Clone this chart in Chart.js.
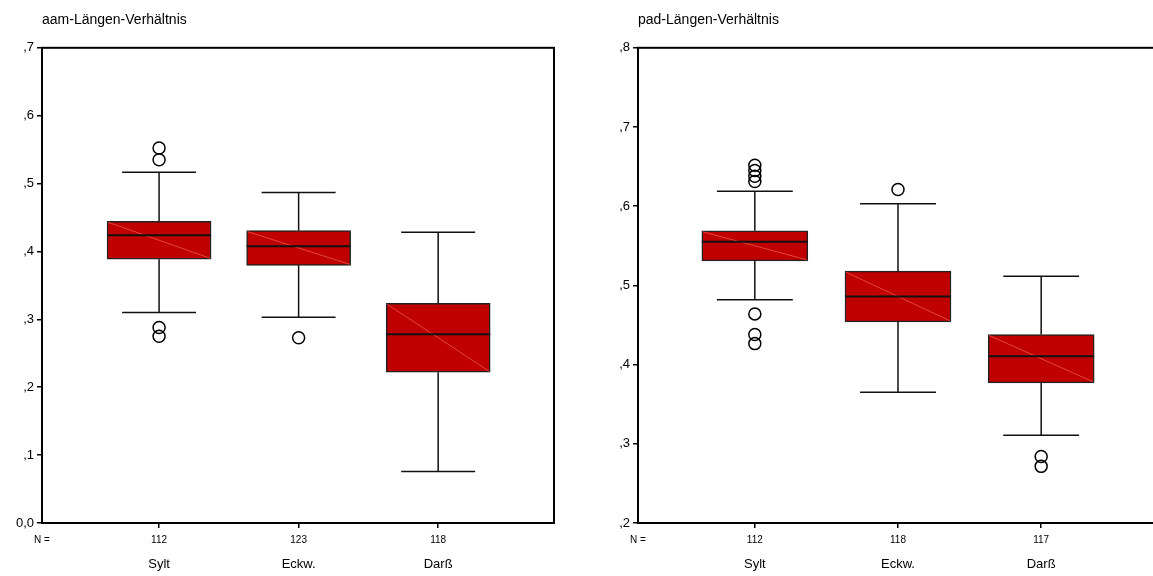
<!DOCTYPE html>
<html>
<head>
<meta charset="utf-8">
<script src="https://cdn.jsdelivr.net/npm/chart.js@4.4.1/dist/chart.umd.min.js"></script>
<style>
  html, body { margin: 0; padding: 0; background: #fff; overflow: hidden; width: 1153px; height: 576px; }
  #left { position: absolute; left: 0; top: 0; }
  #right { position: absolute; left: 580px; top: 0; }
</style>
</head>
<body>
<canvas id="left" width="576" height="576"></canvas>
<canvas id="right" width="600" height="576"></canvas>
<script>
// categories and sample sizes
const categories = ["Sylt", "Eckw.", "Darß"];
const aamN = ["112", "123", "118"];
const padN = ["112", "118", "117"];

// aam-Längen-Verhältnis
const aamWhiskerLow = [0.310, 0.303, 0.076];
const aamQ1 = [0.3885, 0.3796, 0.222];
const aamMedian = [0.4238, 0.4076, 0.278];
const aamQ3 = [0.4445, 0.4307, 0.3237];
const aamWhiskerHigh = [0.5167, 0.4867, 0.4283];
const aamOutliers = [[0.5525, 0.535, 0.288, 0.275], [0.273], []];

// pad-Längen-Verhältnis
const padWhiskerLow = [0.482, 0.365, 0.3107];
const padQ1 = [0.531, 0.454, 0.377];
const padMedian = [0.555, 0.486, 0.4105];
const padQ3 = [0.569, 0.518, 0.438];
const padWhiskerHigh = [0.619, 0.603, 0.5115];
const padOutliers = [[0.6517, 0.645, 0.6378, 0.6311, 0.464, 0.438, 0.4265], [0.621], [0.284, 0.2715]];

const FONT = "Arial, 'Liberation Sans', sans-serif";

function fmtY(v) {
  if (Math.abs(v) < 1e-9) return "0,0";
  return "," + Math.round(v * 10);
}

function makeBoxChart(canvasId, cfg) {
  const xs = categories.map(function (c, i) { return i + 1; });

  const boxData = xs.map(function (x, i) {
    return { x: x, y: [cfg.q1[i], cfg.q3[i]] };
  });

  const outlierData = [];
  cfg.outliers.forEach(function (list, i) {
    list.forEach(function (v) {
      outlierData.push({ x: xs[i], y: v });
    });
  });

  // whiskers, caps, median and the light diagonal in each box
  const whiskerPlugin = {
    id: "whiskers",
    afterDatasetsDraw: function (chart) {
      const c = chart.ctx;
      const xScale = chart.scales.x;
      const yScale = chart.scales.y;
      const bars = chart.getDatasetMeta(0).data;
      c.save();
      bars.forEach(function (bar, i) {
        const xc = xScale.getPixelForValue(xs[i]);
        const capHalf = xScale.getPixelForValue(xs[i] + 0.265) - xc;
        const yHi = yScale.getPixelForValue(cfg.hi[i]);
        const yLo = yScale.getPixelForValue(cfg.lo[i]);
        const yQ3 = yScale.getPixelForValue(cfg.q3[i]);
        const yQ1 = yScale.getPixelForValue(cfg.q1[i]);
        const yMed = yScale.getPixelForValue(cfg.median[i]);
        const left = bar.x - bar.width / 2;
        const right = bar.x + bar.width / 2;

        c.strokeStyle = "#e8584f";
        c.lineWidth = 0.8;
        c.beginPath();
        c.moveTo(left + 1, yQ3 + 1);
        c.lineTo(right - 1, yQ1 - 1);
        c.stroke();

        c.strokeStyle = "#111";
        c.lineWidth = 1.5;
        c.beginPath();
        c.moveTo(xc, yHi); c.lineTo(xc, yQ3);
        c.moveTo(xc, yQ1); c.lineTo(xc, yLo);
        c.moveTo(xc - capHalf, yHi); c.lineTo(xc + capHalf, yHi);
        c.moveTo(xc - capHalf, yLo); c.lineTo(xc + capHalf, yLo);
        c.stroke();

        c.lineWidth = 2;
        c.beginPath();
        c.moveTo(left, yMed); c.lineTo(right, yMed);
        c.stroke();
      });
      c.restore();
    },
    afterDraw: function (chart) {
      const a = chart.chartArea;
      const c = chart.ctx;
      c.save();
      c.strokeStyle = "#000";
      c.lineWidth = 2;
      c.strokeRect(a.left, a.top, a.right - a.left, a.bottom - a.top);
      c.restore();
    }
  };

  return new Chart(document.getElementById(canvasId), {
    type: "bar",
    data: {
      datasets: [
        {
          data: boxData,
          backgroundColor: "#c00000",
          borderColor: "#222",
          borderWidth: 1.5,
          borderSkipped: false,
          barThickness: cfg.boxWidth,
          order: 2
        },
        {
          type: "scatter",
          data: outlierData,
          pointRadius: 6,
          pointBorderWidth: 1.5,
          pointBackgroundColor: "rgba(0,0,0,0)",
          pointBorderColor: "#000",
          showLine: false,
          order: 1
        }
      ]
    },
    options: {
      responsive: false,
      animation: false,
      devicePixelRatio: 1,
      layout: { padding: { left: 0, right: cfg.padRight, top: 0, bottom: 0 } },
      plugins: {
        legend: { display: false },
        tooltip: { enabled: false },
        title: {
          display: true,
          text: cfg.title,
          align: "start",
          fullSize: false,
          color: "#000",
          font: { family: FONT, size: 14, weight: "normal" },
          padding: { top: 12, bottom: 19 }
        }
      },
      scales: {
        x: {
          type: "linear",
          position: "bottom",
          weight: 1,
          min: cfg.xMin,
          max: cfg.xMax,
          offset: false,
          border: { display: false },
          grid: {
            offset: false,
            drawOnChartArea: false,
            tickLength: 5,
            lineWidth: 1.5,
            color: function (ctx) { return ctx.index === 0 ? "rgba(0,0,0,0)" : "#000"; }
          },
          afterBuildTicks: function (axis) {
            axis.ticks = [{ value: cfg.xMin }].concat(xs.map(function (v) { return { value: v }; }));
          },
          afterFit: function (axis) { axis.height = 22; },
          ticks: {
            autoSkip: false,
            maxRotation: 0,
            padding: 6,
            color: "#000",
            font: { family: FONT, size: 10 },
            callback: function (value, index) {
              return index === 0 ? "N =" : cfg.n[index - 1];
            }
          }
        },
        xn: {
          type: "linear",
          position: "bottom",
          weight: 2,
          min: cfg.xMin,
          max: cfg.xMax,
          offset: false,
          border: { display: false },
          grid: { display: false, drawTicks: false, offset: false },
          afterBuildTicks: function (axis) {
            axis.ticks = xs.map(function (v) { return { value: v }; });
          },
          afterFit: function (axis) { axis.height = 31; },
          ticks: {
            autoSkip: false,
            maxRotation: 0,
            padding: 12,
            color: "#000",
            font: { family: FONT, size: 13 },
            callback: function (value, index) { return categories[index]; }
          }
        },
        y: {
          min: cfg.yMin,
          max: cfg.yMax,
          border: { display: false },
          grid: { drawOnChartArea: false, tickLength: 5, lineWidth: 1.5, color: "#000" },
          afterFit: function (axis) { axis.width = cfg.yWidth; },
          ticks: {
            stepSize: 0.1,
            padding: 3,
            color: "#000",
            font: { family: FONT, size: 13 },
            callback: function (value) { return fmtY(value); }
          }
        }
      }
    },
    plugins: [whiskerPlugin]
  });
}

makeBoxChart("left", {
  title: "aam-Längen-Verhältnis",
  n: aamN,
  lo: aamWhiskerLow, q1: aamQ1, median: aamMedian, q3: aamQ3, hi: aamWhiskerHigh,
  outliers: aamOutliers,
  yMin: 0, yMax: 0.7,
  xMin: 0.161, xMax: 3.83,
  yWidth: 42, padRight: 22, boxWidth: 104
});

makeBoxChart("right", {
  title: "pad-Längen-Verhältnis",
  n: padN,
  lo: padWhiskerLow, q1: padQ1, median: padMedian, q3: padQ3, hi: padWhiskerHigh,
  outliers: padOutliers,
  yMin: 0.2, yMax: 0.8,
  xMin: 0.184, xMax: 3.83,
  yWidth: 58, padRight: 20, boxWidth: 106
});
</script>
</body>
</html>
